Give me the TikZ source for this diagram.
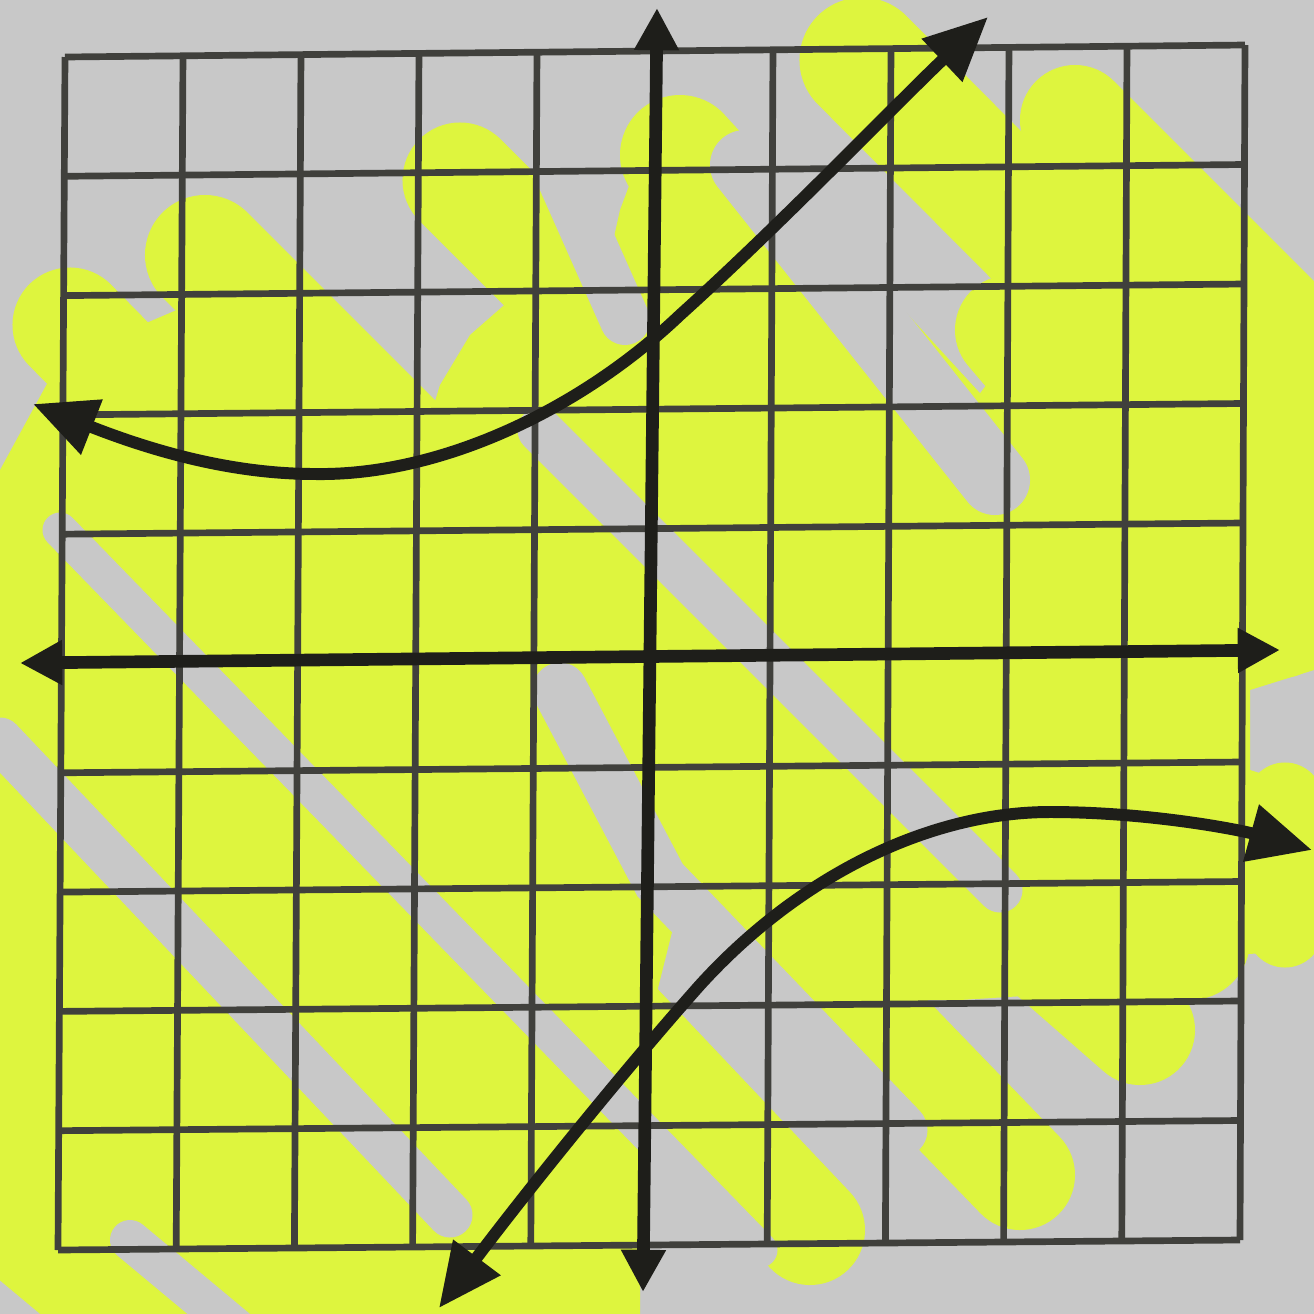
\documentclass[tikz,border=0pt]{standalone}
\usetikzlibrary{arrows.meta,calc}
\definecolor{paper}{RGB}{200,200,200}
\definecolor{hly}{RGB}{222,245,62}
\definecolor{ink}{RGB}{30,30,26}
\tikzset{
  hl/.style={line width=#1*0.2845pt, line cap=round, color=hly},
  gap/.style={line width=#1*0.2845pt, line cap=round, color=paper},
  gridline/.style={line width=1.9pt, color=ink!85},
  axisline/.style={line width=3.6pt, color=ink, {Triangle[length=12pt,width=12pt]}-{Triangle[length=12pt,width=12pt]}},
  curveline/.style={line width=3.4pt, color=ink, {Triangle[length=18pt,width=16pt]}-{Triangle[length=18pt,width=16pt]}},
}
\begin{document}
\begin{tikzpicture}[x=0.01cm,y=-0.01cm]
\useasboundingbox (0,0) rectangle (1314,1314);
\fill[paper] (0,0) rectangle (1314,1314);
% highlighter: main field
\fill[hly] (0,470) -- (60,360) -- (200,300) -- (330,420) -- (420,450) -- (440,385)
  -- (470,335) -- (510,300) -- (600,300) -- (620,210) -- (650,130) -- (720,150) -- (850,380)
  -- (960,420) -- (1020,340) -- (1010,200)
  -- (1150,230) -- (1270,330) -- (1314,380) -- (1314,670) -- (1250,690)
  -- (1250,770) -- (1314,790) -- (1314,950) -- (1150,960) -- (1040,995) -- (960,1000)
  -- (880,1000) -- (790,960) -- (760,890) -- (680,900) -- (640,1060) -- (640,1314)
  -- (0,1314) -- cycle;
% highlighter strokes (round ends)
\draw[hl=115] (70,325) -- (330,590);
\draw[hl=120] (205,255) -- (430,480);
\draw[hl=115] (460,180) -- (700,420);
\draw[hl=120] (680,155) -- (1180,700);
\draw[hl=125] (862,60) -- (1280,480);
\draw[hl=110] (1010,330) -- (1240,600);
\draw[hl=110] (1075,120) -- (1290,335);
\draw[hl=75] (1285,330) -- (1285,640);
\draw[hl=75] (1285,800) -- (1285,930);
\draw[hl=110] (500,470) -- (1140,1030);
\draw[hl=120] (700,450) -- (1190,940);
\draw[hl=110] (300,430) -- (1020,1175);
\draw[hl=110] (100,480) -- (810,1230);
% gaps in the highlighting
\draw[gap=50] (545,140) -- (625,320);
\draw[gap=70] (745,165) -- (995,480);
\draw[gap=45] (540,430) -- (1000,890);
\draw[gap=55] (560,690) -- (660,880) -- (900,1130);
\draw[gap=35] (60,530) -- (760,1250);
\draw[gap=45] (0,740) -- (450,1215);
\draw[gap=40] (130,1240) -- (250,1340);
\draw[gap=40] (-20,1290) -- (40,1340);
% grid
\coordinate (TL) at (65,57);
\coordinate (TR) at (1245,45);
\coordinate (BL) at (58,1250);
\coordinate (BR) at (1240,1240);
\foreach \k in {0,1,2,3,4,6,7,8,9,10} {
  \draw[gridline] ($(TL)!\k/10!(TR)$) -- ($(BL)!\k/10!(BR)$);
  \draw[gridline] ($(TL)!\k/10!(BL)$) -- ($(TR)!\k/10!(BR)$);
}
% axes
\coordinate (ytop) at (657,8);
\coordinate (ybot) at (643,1292);
\coordinate (xl) at (20,663);
\coordinate (xr) at (1280,650);
\draw[axisline] (ybot) -- (ytop);
\draw[axisline] (xl) -- (xr);
% curves
\coordinate (u0) at (33,404);
\coordinate (u1) at (315,474);
\coordinate (u2) at (680,315);
\coordinate (u3) at (988,17);
\draw[curveline] (u0) .. controls (150,450) and (230,474) .. (u1)
  .. controls (440,476) and (580,410) .. (u2)
  .. controls (780,225) and (900,100) .. (u3);
\coordinate (l0) at (439,1308);
\coordinate (l1) at (700,985);
\coordinate (l2) at (1050,812);
\coordinate (l3) at (1312,850);
\draw[curveline] (l0) .. controls (520,1200) and (620,1075) .. (l1)
  .. controls (800,875) and (930,812) .. (l2)
  .. controls (1150,812) and (1240,830) .. (l3);
\end{tikzpicture}
\end{document}
